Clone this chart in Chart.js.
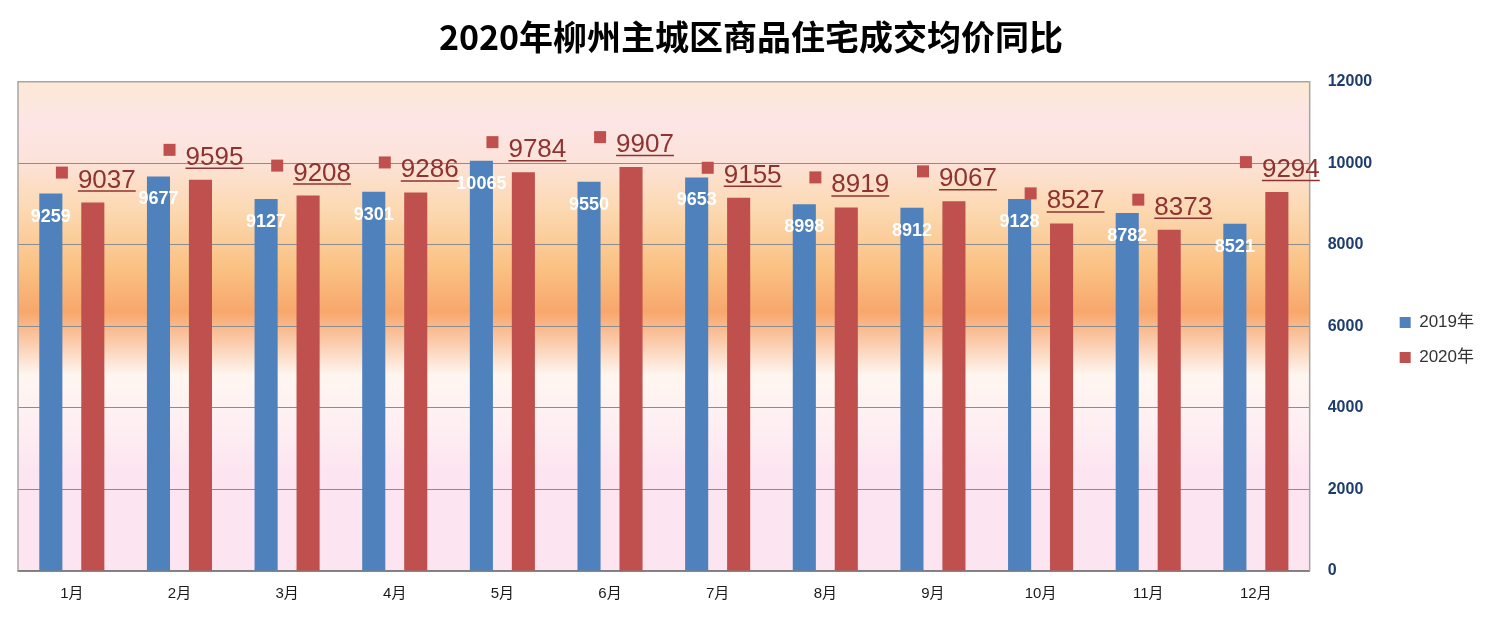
<html>
<head>
<meta charset="utf-8">
<title>2020年柳州主城区商品住宅成交均价同比</title>
<style>
body { margin: 0; background: white; }
.chartBox { width: 1492px; height: 619px; }
</style>
</head>
<body>
<div class="chartBox">
	<canvas id="myChart"></canvas>
</div>
<script src="https://cdn.jsdelivr.net/npm/chart.js@4.4.1/dist/chart.umd.min.js"></script>
<script>

// data
const months = ['1月', '2月', '3月', '4月', '5月', '6月', '7月', '8月', '9月', '10月', '11月', '12月'];
const price2019 = [9259, 9677, 9127, 9301, 10065, 9550, 9653, 8998, 8912, 9128, 8782, 8521];
const price2020 = [9037, 9595, 9208, 9286, 9784, 9907, 9155, 8919, 9067, 8527, 8373, 9294];
const seriesNames = ['2019年', '2020年'];
const yTicks = [0, 2000, 4000, 6000, 8000, 10000, 12000];

const blue = '#4F81BD';
const red = '#C0504D';
const cjk = '"Liberation Sans", "Noto Sans CJK SC", sans-serif';

// plot background, border and grid look
const plotBg = {
    id: 'plotBg',
    beforeDraw(chart) {
        const {ctx, chartArea: a} = chart;
        const g = ctx.createLinearGradient(0, a.top, 0, a.bottom);
        g.addColorStop(0, '#FDE9D3');
        g.addColorStop(0.08, '#FCE5E6');
        g.addColorStop(0.16, '#FCE3DA');
        g.addColorStop(0.26, '#FCD9B2');
        g.addColorStop(0.38, '#FAC183');
        g.addColorStop(0.47, '#F8A76C');
        g.addColorStop(0.53, '#FACAA9');
        g.addColorStop(0.60, '#FFF6F0');
        g.addColorStop(0.70, '#FEEFF3');
        g.addColorStop(0.80, '#FCE4F0');
        g.addColorStop(1, '#FCE4F0');
        ctx.save();
        ctx.fillStyle = g;
        ctx.fillRect(a.left, a.top, a.right - a.left, a.bottom - a.top);
        ctx.restore();
    },
    beforeDatasetsDraw(chart) {
        const {ctx, chartArea: a} = chart;
        ctx.save();
        ctx.strokeStyle = '#A6A6A6';
        ctx.lineWidth = 1.5;
        ctx.beginPath();
        ctx.moveTo(a.left, a.bottom);
        ctx.lineTo(a.left, a.top);
        ctx.lineTo(a.right, a.top);
        ctx.lineTo(a.right, a.bottom);
        ctx.stroke();
        ctx.restore();
    }
};

// value labels: white inside blue bars, underlined red with key above red bars
const valueLabels = {
    id: 'valueLabels',
    afterDatasetsDraw(chart) {
        const ctx = chart.ctx;
        ctx.save();
        chart.getDatasetMeta(0).data.forEach((bar, i) => {
            ctx.fillStyle = '#FFFFFF';
            ctx.font = 'bold 18px "Liberation Sans", sans-serif';
            ctx.textAlign = 'center';
            ctx.textBaseline = 'middle';
            ctx.fillText(String(price2019[i]), bar.x, bar.y + 23);
        });
        chart.getDatasetMeta(1).data.forEach((bar, i) => {
            const txt = String(price2020[i]);
            ctx.font = '26px "Liberation Sans", sans-serif';
            const w = ctx.measureText(txt).width;
            const total = 12 + 10 + w;
            const x0 = bar.x + 3 - total / 2;
            ctx.fillStyle = red;
            ctx.fillRect(x0, bar.y - 36, 12, 12);
            ctx.fillStyle = '#8E3331';
            ctx.textAlign = 'left';
            ctx.textBaseline = 'alphabetic';
            ctx.fillText(txt, x0 + 22, bar.y - 15);
            ctx.strokeStyle = '#8E3331';
            ctx.lineWidth = 1.5;
            ctx.beginPath();
            ctx.moveTo(x0 + 22, bar.y - 11.5);
            ctx.lineTo(x0 + 22 + w, bar.y - 11.5);
            ctx.stroke();
        });
        ctx.restore();
    }
};

const data = {
    labels: months,
    datasets: [{
        label: seriesNames[0],
        data: price2019,
        backgroundColor: blue,
        borderWidth: 0
    }, {
        label: seriesNames[1],
        data: price2020,
        backgroundColor: red,
        borderWidth: 0
    }]
};

const config = {
    type: 'bar',
    data,
    options: {
        responsive: true,
        maintainAspectRatio: false,
        animation: false,
        layout: { padding: { left: 18, right: 8, top: 3, bottom: 2 } },
        datasets: { bar: { categoryPercentage: 0.78, barPercentage: 0.55 } },
        plugins: {
            title: {
                display: true,
                text: '2020年柳州主城区商品住宅成交均价同比',
                color: '#000000',
                font: { family: '"Noto Sans CJK SC", sans-serif', size: 34, weight: 'bold', lineHeight: 1.2 },
                padding: { top: 14, bottom: 24 }
            },
            legend: {
                position: 'right',
                title: { display: true, text: ' ', font: { size: 10 }, padding: 24 },
                labels: {
                    boxWidth: 11,
                    boxHeight: 11,
                    padding: 18,
                    color: '#333333',
                    font: { family: cjk, size: 17 }
                }
            },
            tooltip: { enabled: false }
        },
        scales: {
            x: {
                grid: { display: false, drawTicks: false },
                border: { display: true, color: '#7F7F7F', width: 1.5 },
                ticks: { color: '#1A1A1A', font: { family: cjk, size: 15 }, padding: 14 }
            },
            y: {
                position: 'right',
                min: 0,
                max: 12000,
                afterBuildTicks: (scale) => { scale.ticks = yTicks.map(v => ({ value: v })); },
                afterFit: (scale) => { scale.width = 72; },
                grid: { color: '#8C8C8C', lineWidth: 1, drawTicks: false },
                border: { display: false },
                ticks: {
                    color: '#1F3D6B',
                    padding: 18,
                    font: { family: '"Liberation Sans", sans-serif', size: 16, weight: 'bold' },
                    callback: (v) => String(v)
                }
            }
        }
    },
    plugins: [plotBg, valueLabels]
};

const myChart = new Chart(document.getElementById('myChart'), config);

</script>
</body></html>
